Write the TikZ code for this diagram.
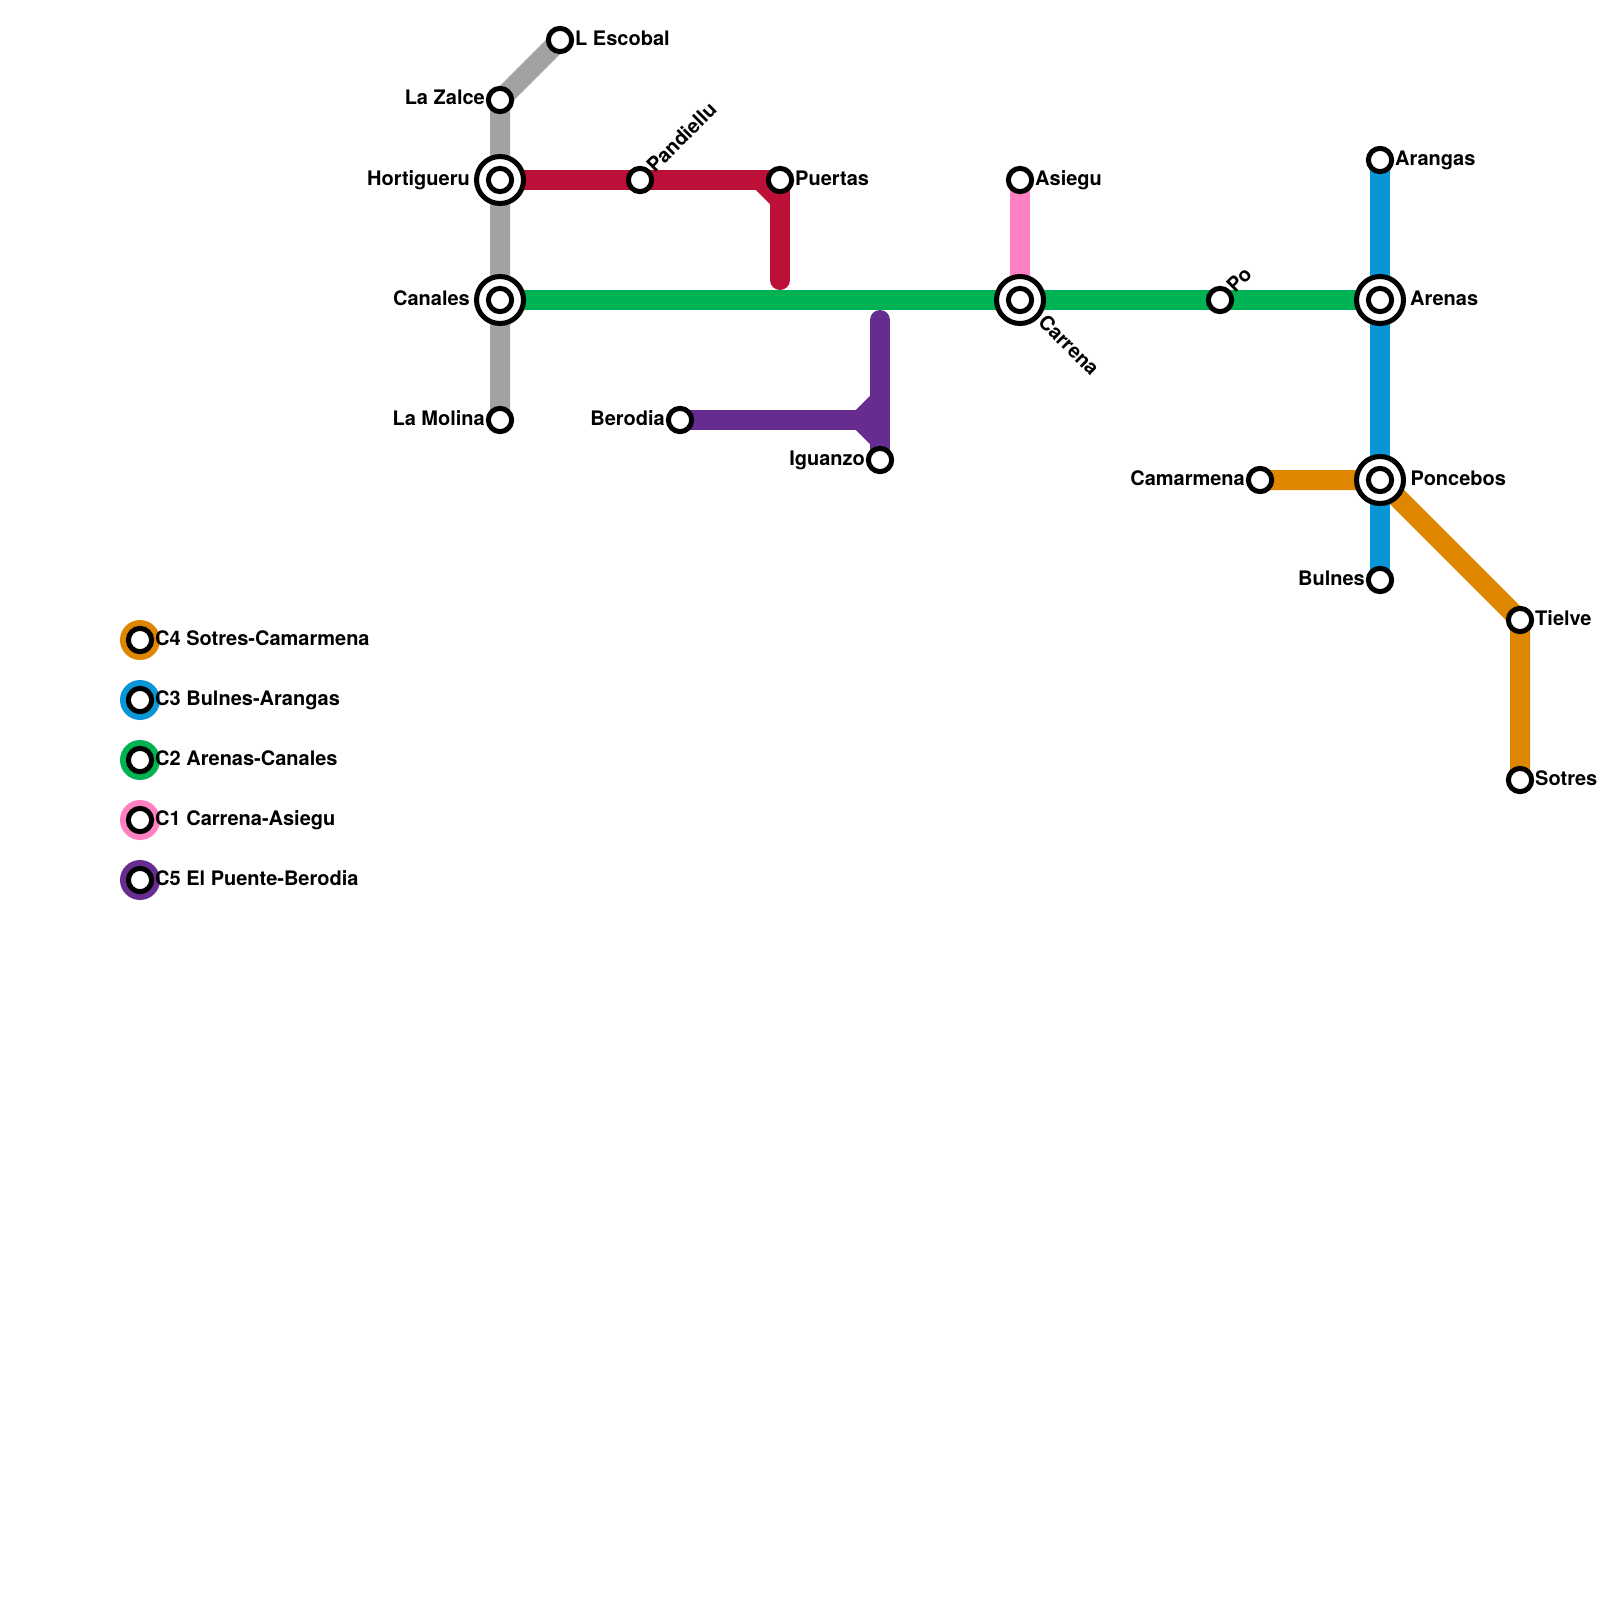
\documentclass[tikz,border=0pt]{standalone}
\usepackage{fontspec}
\setmainfont{TeX Gyre Heros}
\pgfdeclarelayer{lines}
\pgfsetlayers{lines,main}
\definecolor{cgray}{HTML}{A2A2A2}
\definecolor{cred}{HTML}{BD1038}
\definecolor{cgreen}{HTML}{00B251}
\definecolor{cblue}{HTML}{0896D7}
\definecolor{cpink}{HTML}{FF80C0}
\definecolor{corange}{HTML}{DF8600}
\definecolor{cpurple}{HTML}{662C90}
\tikzset{
  stn/.style={circle,draw=black,line width=5pt,fill=white,minimum size=23.3pt,inner sep=0pt},
  hub/.style={circle,draw=black,line width=5pt,fill=white,minimum size=47pt,inner sep=0pt},
  disc/.style={circle,fill=#1,minimum size=40pt,inner sep=0pt},
  route/.style={line width=20pt,draw=#1},
  roundroute/.style={line width=20pt,draw=#1,line cap=round},
  lbl/.style={font=\fontsize{20pt}{24pt}\selectfont\bfseries,text=black,inner sep=0pt},
  lr/.style={lbl,anchor=base west},
  ll/.style={lbl,anchor=base east},
}
\begin{document}
\begin{tikzpicture}[x=1pt,y=-1pt]
\useasboundingbox (0,0) rectangle (1600,1600);
% stations
\node[stn] (lescobal) at (560,40) {};
\node[stn] (lazalce) at (500,100) {};
\node[hub] (hortH) at (500,180) {};
\node[stn] (hort) at (500,180) {};
\node[hub] (canH) at (500,300) {};
\node[stn] (can) at (500,300) {};
\node[stn] (lamolina) at (500,420) {};
\node[stn] (pand) at (640,180) {};
\node[stn] (puertas) at (780,180) {};
\coordinate (redcorner) at (760,180);
\coordinate (redchamfer) at (780,200);
\coordinate (redend) at (780,280);
\node[stn] (asiegu) at (1020,180) {};
\node[hub] (carH) at (1020,300) {};
\node[stn] (car) at (1020,300) {};
\node[stn] (po) at (1220,300) {};
\node[hub] (areH) at (1380,300) {};
\node[stn] (are) at (1380,300) {};
\node[stn] (arangas) at (1380,160) {};
\node[hub] (ponH) at (1380,480) {};
\node[stn] (pon) at (1380,480) {};
\node[stn] (bulnes) at (1380,580) {};
\node[stn] (camar) at (1260,480) {};
\node[stn] (tielve) at (1520,620) {};
\node[stn] (sotres) at (1520,780) {};
\node[stn] (berodia) at (680,420) {};
\node[stn] (iguanzo) at (880,460) {};
\coordinate (purtop) at (880,320);
\coordinate (purjoin) at (860,420);
\coordinate (purup) at (880,400);
\coordinate (purdn) at (880,440);
% lines
\begin{pgfonlayer}{lines}
\fill[white] (0,0) rectangle (1600,1600);
\draw[route=cgray,line join=miter] (lescobal.center) -- (lazalce.center) -- (hortH.center) -- (canH.center) -- (lamolina.center);
\draw[route=cred] (hortH.center) -- (pand.center) -- (puertas.center);
\draw[route=cred] (redcorner) -- (redchamfer);
\draw[roundroute=cred] (puertas.center) -- (redend);
\draw[route=cpink] (asiegu.center) -- (carH.center);
\draw[route=cgreen] (canH.center) -- (carH.center) -- (po.center) -- (areH.center);
\draw[route=cblue] (arangas.center) -- (areH.center) -- (ponH.center) -- (bulnes.center);
\draw[route=corange,line join=miter] (camar.center) -- (ponH.center) -- (tielve.center) -- (sotres.center);
\draw[route=cpurple] (berodia.center) -- (purjoin);
\draw[route=cpurple] (purjoin) -- (purup);
\draw[route=cpurple] (purjoin) -- (purdn);
\draw[roundroute=cpurple] (purtop) -- (iguanzo.center);
\end{pgfonlayer}
% labels
\node[lr] (tEscobal) at (575,45.5) {L Escobal};
\node[ll] (tZalce) at (485,105) {La Zalce};
\node[ll] (tHort) at (470,185) {Hortigueru};
\node[ll] (tCan) at (470,305) {Canales};
\node[ll] (tMol) at (485,425) {La Molina};
\node[lr,rotate=45] (tPand) at (655,174) {Pandiellu};
\node[lr] (tPue) at (795,185) {Puertas};
\node[lr] (tAsi) at (1035,185) {Asiegu};
\node[lr,rotate=-45] (tCar) at (1037,323) {Carrena};
\node[lr,rotate=45] (tPo) at (1235,294) {Po};
\node[lr] (tAre) at (1410,305) {Arenas};
\node[lr] (tAra) at (1395,165) {Arangas};
\node[lr] (tPon) at (1410.5,485) {Poncebos};
\node[ll] (tCam) at (1245,485) {Camarmena};
\node[ll] (tBul) at (1365,585) {Bulnes};
\node[lr] (tTie) at (1535,625) {Tielve};
\node[lr] (tSot) at (1535,785) {Sotres};
\node[ll] (tBer) at (665,425) {Berodia};
\node[ll] (tIgu) at (865,465) {Iguanzo};
% legend
\node[disc=corange] (d4) at (140,640) {};
\node[stn] (s4) at (140,640) {};
\node[lr] (t4) at (155,645) {C4 Sotres-Camarmena};
\node[disc=cblue] (d3) at (140,700) {};
\node[stn] (s3) at (140,700) {};
\node[lr] (t3) at (155,705) {C3 Bulnes-Arangas};
\node[disc=cgreen] (d2) at (140,760) {};
\node[stn] (s2) at (140,760) {};
\node[lr] (t2) at (155,765) {C2 Arenas-Canales};
\node[disc=cpink] (d1) at (140,820) {};
\node[stn] (s1) at (140,820) {};
\node[lr] (t1) at (155,825) {C1 Carrena-Asiegu};
\node[disc=cpurple] (d5) at (140,880) {};
\node[stn] (s5) at (140,880) {};
\node[lr] (t5) at (155,885) {C5 El Puente-Berodia};
\end{tikzpicture}
\end{document}
